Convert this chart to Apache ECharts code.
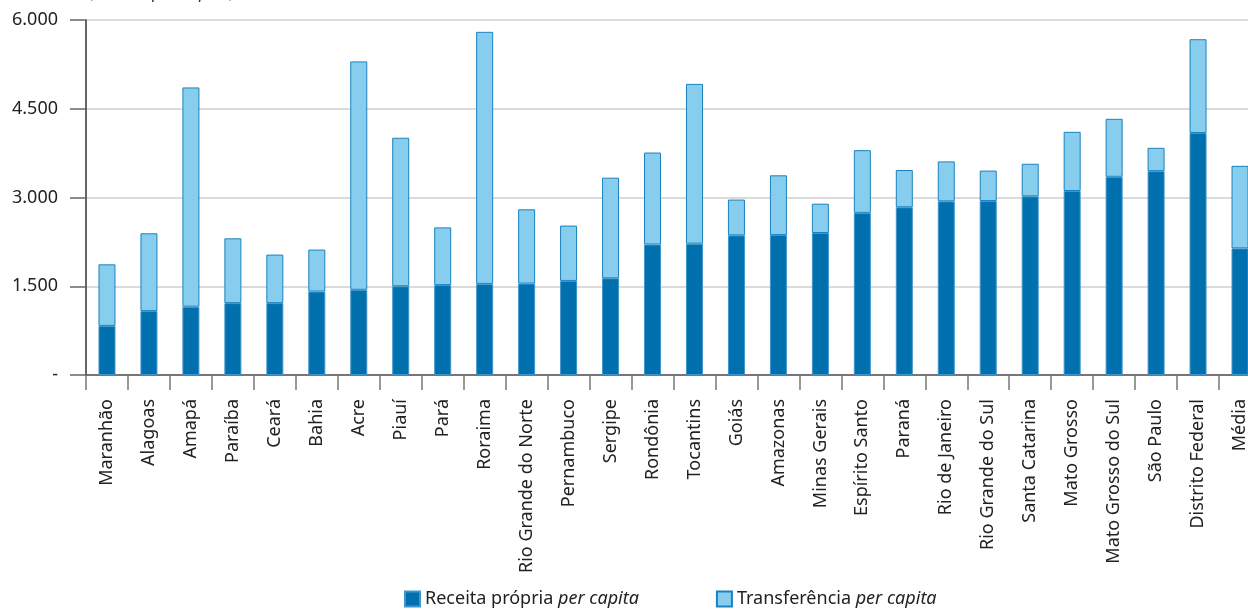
<!DOCTYPE html>
<html>
<head>
<meta charset="utf-8">
<script src="https://cdn.jsdelivr.net/npm/echarts@6/dist/echarts.min.js"></script>
<style>
  html, body { margin: 0; padding: 0; background: #fff; }
  #chart { width: 1248px; height: 609px; }
</style>
</head>
<body>
<div id="chart"></div>
<script>
// estados (ordem do gráfico)
var estados = ['Maranhão', 'Alagoas', 'Amapá', 'Paraíba', 'Ceará', 'Bahia', 'Acre', 'Piauí', 'Pará',
    'Roraima', 'Rio Grande do Norte', 'Pernambuco', 'Sergipe', 'Rondônia', 'Tocantins', 'Goiás',
    'Amazonas', 'Minas Gerais', 'Espírito Santo', 'Paraná', 'Rio de Janeiro', 'Rio Grande do Sul',
    'Santa Catarina', 'Mato Grosso', 'Mato Grosso do Sul', 'São Paulo', 'Distrito Federal', 'Média'];

// receita própria per capita (R$)
var receitaPropria = [830, 1080, 1155, 1215, 1215, 1410, 1440, 1500, 1520, 1540, 1545, 1590, 1635,
    2205, 2220, 2360, 2365, 2400, 2740, 2835, 2935, 2940, 3020, 3110, 3350, 3445, 4090, 2140];

// transferência per capita (R$)
var transferencia = [1040, 1315, 3705, 1095, 820, 710, 3860, 2510, 975, 4260, 1255, 935, 1700,
    1555, 2700, 605, 1010, 495, 1060, 630, 675, 515, 550, 1000, 980, 395, 1585, 1395];

// rótulos do eixo y
var yTicks = [0, 1500, 3000, 4500, 6000];

var fonte = '"Noto Sans", "Open Sans", sans-serif';

function formataMilhar(v) {
    if (v === 0) return '-';
    return String(v).replace(/\B(?=(\d{3})+(?!\d))/g, '.');
}

var chart = echarts.init(document.getElementById('chart'));
chart.setOption({
    animation: false,
    textStyle: { fontFamily: fonte },
    graphic: [{
        type: 'text',
        left: 88,
        top: -15,
        style: {
            text: '(Em R$, {i|per capita})',
            font: '17px ' + fonte,
            fill: '#333',
            rich: { i: { fontStyle: 'italic', fontSize: 17, fontFamily: fonte, fill: '#333' } }
        }
    }],
    grid: {
        left: 86,
        top: 20,
        width: 1175,
        bottom: 234,
        containLabel: false,
        outerBoundsMode: 'none'
    },
    legend: {
        bottom: 1,
        left: 404,
        padding: 0,
        itemWidth: 15,
        itemHeight: 15,
        itemGap: 77,
        icon: 'rect',
        textStyle: {
            fontSize: 18,
            color: '#222',
            fontFamily: fonte,
            rich: { i: { fontStyle: 'italic', fontSize: 18, color: '#222', fontFamily: fonte } }
        },
        formatter: function (name) {
            return name.replace(' per capita', '') + ' {i|per capita}';
        },
        data: ['Receita própria per capita', 'Transferência per capita']
    },
    xAxis: {
        type: 'category',
        data: estados,
        axisLine: { lineStyle: { color: '#555', width: 1.5 } },
        axisTick: { show: true, length: 15, lineStyle: { color: '#777', width: 1.5 } },
        axisLabel: {
            rotate: 90,
            interval: 0,
            margin: 24,
            fontSize: 18,
            color: '#222'
        }
    },
    yAxis: {
        type: 'value',
        min: 0,
        max: 6000,
        interval: 1500,
        axisLine: { show: true, lineStyle: { color: '#333', width: 1.5 } },
        axisTick: { show: true, length: 16, lineStyle: { color: '#666', width: 1.5 } },
        axisLabel: {
            margin: 28,
            fontSize: 18,
            color: '#222',
            formatter: formataMilhar
        },
        splitLine: { lineStyle: { color: '#cfcfcf', width: 1.5 } }
    },
    series: [{
        name: 'Receita própria per capita',
        type: 'bar',
        stack: 'total',
        barWidth: 17,
        data: receitaPropria,
        itemStyle: { color: '#0070AF', borderColor: '#3f95c9', borderWidth: 1 }
    }, {
        name: 'Transferência per capita',
        type: 'bar',
        stack: 'total',
        barWidth: 17,
        data: transferencia,
        itemStyle: { color: '#87CEEE', borderColor: '#1a82c0', borderWidth: 1 }
    }]
});
</script>
</body>
</html>
